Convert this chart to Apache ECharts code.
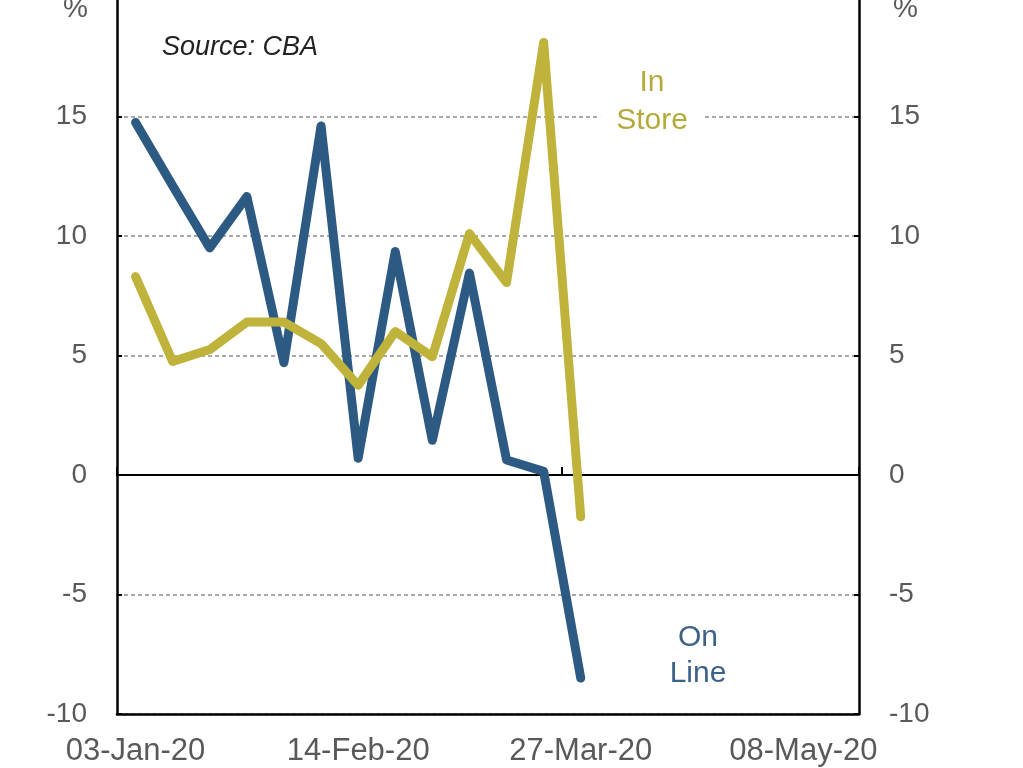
<!DOCTYPE html>
<html>
<head>
<meta charset="utf-8">
<script src="https://cdn.jsdelivr.net/npm/echarts@6/dist/echarts.min.js"></script>
<style>
html,body{margin:0;padding:0;background:#fff;}
#chart{width:1023px;height:768px;}
</style>
</head>
<body>
<div id="chart"></div>
<script>
var categories = ['03-Jan-20','10-Jan-20','17-Jan-20','24-Jan-20','31-Jan-20','07-Feb-20','14-Feb-20','21-Feb-20','28-Feb-20','06-Mar-20','13-Mar-20','20-Mar-20','27-Mar-20','03-Apr-20','10-Apr-20','17-Apr-20','24-Apr-20','01-May-20','08-May-20','15-May-20'];
var onLine = [14.75, 12.1, 9.5, 11.65, 4.7, 14.6, 0.7, 9.35, 1.45, 8.45, 0.63, 0.15, -8.5];
var inStore = [8.3, 4.75, 5.25, 6.4, 6.4, 5.5, 3.75, 6.0, 4.95, 10.1, 8.05, 18.1, -1.75];
var yTicks = {min: -10, max: 20, interval: 5};

var FONT = '"Liberation Sans", Arial, sans-serif';
var chart = echarts.init(document.getElementById('chart'), null, {renderer: 'canvas'});
var yAxisBase = function (pos) {
  return {
    type: 'value', position: pos,
    min: yTicks.min, max: yTicks.max, interval: yTicks.interval,
    name: '%', nameLocation: 'end', nameGap: -26,
    nameTextStyle: pos === 'left'
      ? {color: '#595959', fontSize: 28, fontFamily: FONT, align: 'right', padding: [0, 29, 0, 0]}
      : {color: '#595959', fontSize: 28, fontFamily: FONT, align: 'left', padding: [0, 0, 0, 34]},
    axisLine: {show: true, onZero: false, lineStyle: {color: '#000', width: 2.5}},
    axisTick: {show: true, inside: true, length: 5, lineStyle: {color: '#000', width: 2}},
    axisLabel: {color: '#595959', fontSize: 28, fontFamily: FONT, margin: 30,
      formatter: function (v) { return v >= 20 ? '' : String(v); }},
    splitLine: {show: pos === 'left', lineStyle: {color: '#8c8c8c', width: 1.5, type: [4, 3]}}
  };
};
var option = {
  animation: false,
  backgroundColor: '#fff',
  grid: {left: 117, right: 164, top: -3, bottom: 54, containLabel: false, outerBoundsMode: 'none'},
  xAxis: [
    {
      type: 'category', data: categories, boundaryGap: true, position: 'bottom',
      axisLine: {onZero: false, lineStyle: {color: '#000', width: 2.5}},
      axisTick: {show: false},
      axisLabel: {interval: 5, color: '#595959', fontSize: 31, fontFamily: FONT, margin: 22},
      splitLine: {show: false}
    },
    {
      type: 'category', data: categories, boundaryGap: true, position: 'bottom',
      axisLine: {onZero: true, onZeroAxisIndex: 0, lineStyle: {color: '#000', width: 2}},
      axisTick: {show: true, inside: true, length: 8, interval: 11, lineStyle: {color: '#000', width: 2}},
      axisLabel: {show: false},
      splitLine: {show: false}
    }
  ],
  yAxis: [yAxisBase('left'), yAxisBase('right')],
  series: [
    {
      name: 'On Line', type: 'line', data: onLine, xAxisIndex: 0, yAxisIndex: 0,
      showSymbol: false, symbol: 'none',
      lineStyle: {color: '#2c5a83', width: 9, cap: 'round', join: 'round'}, z: 3
    },
    {
      name: 'In Store', type: 'line', data: inStore, xAxisIndex: 0, yAxisIndex: 0,
      showSymbol: false, symbol: 'none',
      lineStyle: {color: '#bfb33b', width: 9, cap: 'round', join: 'round'}, z: 4
    }
  ],
  graphic: [
    {type: 'text', left: 162, top: 34, z: 10,
      style: {text: 'Source: CBA', font: 'italic 27px ' + FONT, fill: '#222'}},
    {type: 'text', x: 652, y: 102, z: 10,
      style: {text: 'In\nStore', font: '30px ' + FONT, fill: '#b5aa3c', align: 'center', verticalAlign: 'middle',
        lineHeight: 38, backgroundColor: '#fff', padding: [0, 16]}},
    {type: 'text', x: 698, y: 656, z: 10,
      style: {text: 'On\nLine', font: '30px ' + FONT, fill: '#3d6288', align: 'center', verticalAlign: 'middle',
        lineHeight: 36}}
  ]
};
chart.setOption(option);
</script>
</body>
</html>
